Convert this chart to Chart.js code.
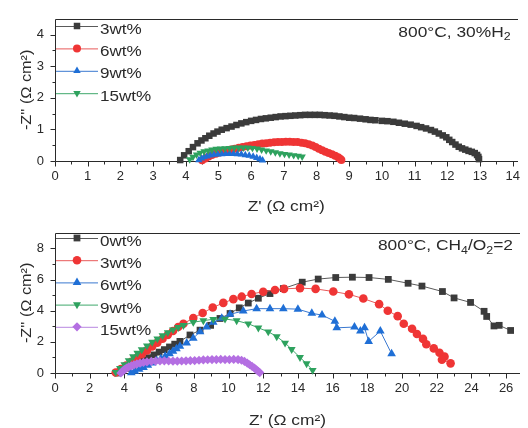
<!DOCTYPE html>
<html>
<head>
<meta charset="utf-8">
<title>Impedance spectra</title>
<script src="https://cdn.jsdelivr.net/npm/chart.js@4/dist/chart.umd.min.js"></script>
<style>
  html, body { margin: 0; padding: 0; background: #ffffff; }
  #wrap { position: relative; width: 528px; height: 428px; overflow: hidden; }
  canvas { position: absolute; left: 0; }
  #h2Chart { top: 0; }
  #ch4Chart { top: 214px; }
</style>
</head>
<body>
<div id="wrap">
  <canvas id="h2Chart" width="528" height="214"></canvas>
  <canvas id="ch4Chart" width="528" height="214"></canvas>
</div>
<script>
// ---------- 800°C, 30% H2 : Nyquist plots ----------
const h2Labels = ['3wt%', '6wt%', '9wt%', '15wt%'];

const h2Re3 = [3.83,3.95,4.09,4.22,4.36,4.48,4.6,4.72,4.85,4.97,5.1,5.25,5.4,5.55,5.7,5.85,
  6.0,6.15,6.3,6.45,6.6,6.75,6.9,7.05,7.2,7.35,7.5,7.65,7.8,7.95,8.1,8.25,8.4,8.55,
  8.7,8.85,9.0,9.15,9.33,9.5,9.65,9.8,10.0,10.17,10.35,10.52,10.7,10.88,11.06,11.2,11.35,11.5,11.62,11.74,
  11.86,11.97,12.06,12.15,12.25,12.35,12.45,12.55,12.65,12.75,12.84,12.91,12.95,12.97];
const h2Im3 = [0.03,0.18,0.31,0.44,0.56,0.65,0.72,0.8,0.87,0.93,0.99,1.04,1.09,1.14,1.19,1.23,
  1.27,1.30,1.33,1.35,1.37,1.39,1.41,1.42,1.43,1.44,1.45,1.46,1.46,1.46,1.46,1.45,1.44,1.43,
  1.41,1.39,1.37,1.36,1.34,1.32,1.30,1.29,1.27,1.26,1.24,1.21,1.18,1.15,1.11,1.07,1.03,0.98,0.93,0.87,
  0.81,0.75,0.67,0.6,0.52,0.45,0.4,0.36,0.32,0.29,0.25,0.19,0.13,0.06];

const h2Re6 = [4.5,4.6,4.7,4.8,4.92,5.03,5.15,5.26,5.38,5.5,5.62,5.74,5.86,5.98,6.1,6.22,6.34,6.46,6.58,6.7,
  6.82,6.94,7.06,7.18,7.3,7.42,7.54,7.65,7.76,7.87,7.97,8.07,8.17,8.27,8.37,8.47,8.57,8.66,8.72,8.76];
const h2Im6 = [0.02,0.08,0.14,0.19,0.23,0.27,0.3,0.33,0.36,0.39,0.42,0.44,0.47,0.49,0.51,0.53,0.55,0.56,0.58,0.59,
  0.6,0.6,0.61,0.61,0.6,0.6,0.58,0.56,0.53,0.49,0.44,0.39,0.34,0.29,0.25,0.21,0.17,0.12,0.07,0.03];

const h2Re9 = [4.4,4.48,4.56,4.65,4.75,4.86,4.98,5.1,5.22,5.34,5.46,5.58,5.7,5.82,5.94,6.06,6.17,6.27,6.35];
const h2Im9 = [0.03,0.08,0.12,0.15,0.18,0.2,0.21,0.22,0.23,0.23,0.23,0.22,0.21,0.19,0.17,0.14,0.1,0.06,0.02];

const h2Re15 = [4.12,4.22,4.33,4.44,4.56,4.68,4.8,4.93,5.06,5.2,5.34,5.48,5.62,5.76,5.9,6.04,6.18,6.32,6.46,6.6,
  6.74,6.88,7.02,7.16,7.3,7.44,7.56];
const h2Im15 = [0.05,0.13,0.2,0.26,0.3,0.33,0.36,0.38,0.39,0.4,0.41,0.42,0.42,0.42,0.42,0.41,0.39,0.36,0.33,0.3,
  0.27,0.24,0.22,0.2,0.18,0.16,0.14];

const h2XTicks = [0,1,2,3,4,5,6,7,8,9,10,11,12,13,14];
const h2YTicks = [0,1,2,3,4];

// ---------- 800°C, CH4/O2 = 2 : Nyquist plots ----------
const ch4Labels = ['0wt%', '3wt%', '6wt%', '9wt%', '15wt%'];

const ch4Re0 = [3.6,3.9,4.2,4.5,4.8,5.1,5.4,5.7,6.0,6.3,6.6,6.9,7.2,7.78,8.36,8.97,9.51,10.09,10.62,11.14,11.72,
  12.39,13.16,14.25,15.17,16.18,17.14,18.1,19.21,20.35,21.15,22.33,23.0,23.95,24.73,24.88,25.3,25.6,26.26];
const ch4Im0 = [0.0,0.15,0.3,0.48,0.64,0.82,0.98,1.16,1.34,1.5,1.67,1.85,2.03,2.44,2.75,3.06,3.5,3.82,4.18,4.49,4.8,
  5.1,5.42,5.83,6.03,6.13,6.15,6.13,6.01,5.76,5.58,5.23,4.82,4.53,3.96,3.63,3.02,3.06,2.73];

const ch4Re3 = [3.5,3.8,4.1,4.4,4.7,5.0,5.3,5.6,5.9,6.2,6.5,6.8,7.1,7.4,7.97,8.51,9.09,9.7,10.28,10.76,11.33,12.0,
  12.68,13.2,14.12,15.02,16.04,16.94,17.77,18.68,19.18,19.75,20.1,20.58,20.86,21.21,21.4,21.83,22.16,22.45,22.3,22.8];
const ch4Im3 = [0.03,0.25,0.48,0.72,0.96,1.2,1.45,1.7,1.95,2.2,2.45,2.7,2.95,3.16,3.53,3.85,4.2,4.5,4.74,4.9,5.07,5.22,
  5.33,5.4,5.45,5.4,5.23,5.05,4.78,4.42,4.0,3.65,3.16,2.84,2.5,2.19,1.85,1.58,1.3,1.05,0.85,0.62];

const ch4Re6 = [4.4,4.6,4.85,5.1,5.35,5.6,5.85,6.1,6.35,6.6,6.8,7.0,7.2,7.59,7.97,8.36,8.74,9.12,9.61,10.09,10.85,
  11.62,12.39,13.16,14.0,14.8,15.39,16.13,16.24,17.26,17.6,17.84,18.08,18.75,19.4];
const ch4Im6 = [0.02,0.12,0.24,0.36,0.5,0.64,0.78,0.92,1.08,1.24,1.4,1.56,1.72,1.93,2.23,2.65,2.95,3.26,3.51,3.77,3.98,
  4.13,4.13,4.13,4.1,3.83,3.72,3.32,2.9,2.95,2.7,2.9,2.03,2.69,1.23];

const ch4Re9 = [3.5,3.75,4.0,4.25,4.5,4.75,5.0,5.3,5.6,5.9,6.2,6.5,6.8,7.1,7.4,7.97,8.55,9.12,9.8,10.47,11.14,11.72,
  12.29,12.78,13.26,13.64,14.12,14.5,14.85];
const ch4Im9 = [0.05,0.3,0.55,0.8,1.05,1.28,1.5,1.75,1.98,2.2,2.4,2.6,2.78,2.93,3.06,3.26,3.36,3.45,3.47,3.36,3.16,2.9,
  2.65,2.34,1.93,1.52,1.0,0.6,0.18];

const ch4Re15 = [3.8,3.9,4.0,4.12,4.25,4.4,4.55,4.72,4.9,5.1,5.3,5.55,5.8,6.05,6.3,6.55,6.8,7.05,7.3,7.55,7.8,8.05,
  8.3,8.55,8.8,9.05,9.3,9.55,9.8,10.05,10.3,10.55,10.75,10.92,11.08,11.22,11.36,11.5,11.62,11.72,11.8];
const ch4Im15 = [0.0,0.12,0.22,0.31,0.39,0.46,0.52,0.58,0.63,0.68,0.71,0.74,0.76,0.77,0.78,0.77,0.76,0.76,0.77,0.78,0.79,0.8,
  0.82,0.84,0.85,0.86,0.86,0.87,0.86,0.86,0.87,0.86,0.82,0.74,0.64,0.53,0.42,0.31,0.2,0.1,0.03];

const ch4XTicks = [0,2,4,6,8,10,12,14,16,18,20,22,24,26];
const ch4YTicks = [0,2,4,6,8];

// ---------- styling ----------
const AXIS = '#2a2a2a';
const FONT = '"Liberation Sans", Arial, Helvetica, sans-serif';
const MARKS = {
  black:  { fill: '#3b3b3b', line: '#5a5a5a', style: 'rect' },
  red:    { fill: '#ef3535', line: '#e85a5a', style: 'circle' },
  blue:   { fill: '#1f6fd6', line: '#3a78d0', style: 'triangle' },
  green:  { fill: '#2ea25e', line: '#3fa86c', style: 'triangle', rot: 180 },
  purple: { fill: '#b46fe2', line: '#b888e0', style: 'rectRot' }
};

function series(re, im, label, mark, radius) {
  return {
    label,
    data: re.map((x, i) => ({ x, y: im[i] })),
    showLine: true,
    borderColor: mark.line,
    borderWidth: 1,
    backgroundColor: mark.fill,
    pointBackgroundColor: mark.fill,
    pointBorderColor: mark.fill,
    pointBorderWidth: 0,
    pointStyle: mark.style,
    pointRotation: mark.rot || 0,
    pointRadius: radius,
    pointHoverRadius: radius,
    tension: 0,
    clip: false
  };
}

// text with optional subscript pieces and horizontal stretch
function drawRich(ctx, parts, x, y, size, sx, align) {
  ctx.save();
  ctx.fillStyle = AXIS;
  ctx.textBaseline = 'alphabetic';
  ctx.textAlign = 'left';
  const widths = parts.map(p => {
    ctx.font = `${p.sub ? Math.round(size * 0.68) : size}px ${FONT}`;
    return ctx.measureText(p.t).width * sx;
  });
  const total = widths.reduce((a, b) => a + b, 0);
  let cx = align === 'right' ? x - total : align === 'center' ? x - total / 2 : x;
  parts.forEach((p, i) => {
    ctx.font = `${p.sub ? Math.round(size * 0.68) : size}px ${FONT}`;
    ctx.save();
    ctx.translate(cx, y + (p.sub ? size * 0.28 : 0));
    ctx.scale(sx, 1);
    ctx.fillText(p.t, 0, 0);
    ctx.restore();
    cx += widths[i];
  });
  ctx.restore();
}

const decor = {
  id: 'decor',
  beforeDatasetsDraw(chart, args, o) {
    const ctx = chart.ctx, a = chart.chartArea;
    const xs = chart.scales.x, ys = chart.scales.y;
    const L = Math.round(a.left) + 0.5, R = Math.round(a.right);
    const T = Math.round(a.top) + 0.5, B = Math.round(a.bottom) + 0.5;
    ctx.save();
    ctx.strokeStyle = AXIS;
    ctx.lineWidth = 1;
    ctx.beginPath();
    ctx.moveTo(L, T); ctx.lineTo(R, T);
    ctx.moveTo(L, T); ctx.lineTo(L, B); ctx.lineTo(R, B);
    const xt = o.xTicks, yt = o.yTicks;
    xt.forEach((v, i) => {
      const px = Math.round(xs.getPixelForValue(v)) + 0.5;
      ctx.moveTo(px, B); ctx.lineTo(px, B + 5);
      const mid = i < xt.length - 1 ? (v + xt[i + 1]) / 2 : null;
      if (mid !== null) {
        const pm = Math.round(xs.getPixelForValue(mid)) + 0.5;
        ctx.moveTo(pm, B); ctx.lineTo(pm, B + 3);
      }
    });
    yt.forEach((v, i) => {
      const py = Math.round(ys.getPixelForValue(v)) + 0.5;
      ctx.moveTo(L, py); ctx.lineTo(L - 5, py);
      const mid = (v + (i < yt.length - 1 ? yt[i + 1] : v + (yt[1] - yt[0]))) / 2;
      if (mid < ys.max) {
        const pm = Math.round(ys.getPixelForValue(mid)) + 0.5;
        ctx.moveTo(L, pm); ctx.lineTo(L - 3, pm);
      }
    });
    ctx.stroke();
    ctx.restore();
  },
  afterDatasetsDraw(chart, args, o) {
    const ctx = chart.ctx, a = chart.chartArea;
    // legend: line sample, marker, label
    chart.data.datasets.forEach((ds, i) => {
      const y = o.legendY + i * o.legendStep;
      ctx.save();
      ctx.strokeStyle = ds.borderColor;
      ctx.lineWidth = 1;
      ctx.beginPath();
      ctx.moveTo(a.left + 1, y + 0.5);
      ctx.lineTo(a.left + 43, y + 0.5);
      ctx.stroke();
      ctx.fillStyle = ds.pointBackgroundColor;
      Chart.helpers.drawPoint(ctx, {
        pointStyle: ds.pointStyle, rotation: ds.pointRotation,
        radius: ds.pointRadius, borderWidth: 0
      }, a.left + 22, y);
      ctx.restore();
      drawRich(ctx, [{ t: ds.label }], a.left + 45, y + o.legendBase, 14, 1.22, 'left');
    });
    // condition label, top right
    drawRich(ctx, o.note, a.right - 7, o.noteY, 14, 1.24, 'right');
    // axis titles
    drawRich(ctx, [{ t: "Z' (\u03A9 cm\u00B2)" }], (a.left + a.right) / 2, o.xTitleY, 15, 1.16, 'center');
    ctx.save();
    ctx.translate(31, (a.top + a.bottom) / 2);
    ctx.rotate(-Math.PI / 2);
    drawRich(ctx, [{ t: "-Z'' (\u03A9 cm\u00B2)" }], 0, 0, 15, 1.08, 'center');
    ctx.restore();
  }
};

function buildOptions(cfg) {
  const tickFont = { family: FONT, size: 13 };
  return {
    responsive: false,
    animation: false,
    events: [],
    layout: { padding: { left: 0, right: 8, top: cfg.top, bottom: 0 } },
    plugins: {
      legend: { display: false },
      tooltip: { enabled: false },
      decor: cfg.decor
    },
    scales: {
      x: {
        type: 'linear', min: 0, max: cfg.xMax,
        afterBuildTicks: s => { s.ticks = cfg.xTicks.map(v => ({ value: v })); },
        afterFit: s => { s.height = cfg.xHeight; },
        grid: { display: false, drawTicks: false, tickLength: 0 },
        border: { display: false },
        ticks: { padding: 8, color: AXIS, font: tickFont, maxRotation: 0, autoSkip: false, callback: v => String(v) }
      },
      y: {
        type: 'linear', min: 0, max: cfg.yMax,
        afterBuildTicks: s => { s.ticks = cfg.yTicks.map(v => ({ value: v })); },
        afterFit: s => { s.width = 55; },
        grid: { display: false, drawTicks: false, tickLength: 0 },
        border: { display: false },
        ticks: { padding: 11, color: AXIS, font: tickFont, autoSkip: false, callback: v => String(v) }
      }
    }
  };
}

new Chart(document.getElementById('h2Chart'), {
  type: 'scatter',
  data: {
    datasets: [
      series(h2Re3, h2Im3, h2Labels[0], MARKS.black, 4.6),
      series(h2Re6, h2Im6, h2Labels[1], MARKS.red, 4),
      series(h2Re9, h2Im9, h2Labels[2], MARKS.blue, 4.3),
      series(h2Re15, h2Im15, h2Labels[3], MARKS.green, 4.3)
    ].map((d, i) => Object.assign(d, { order: -i }))
  },
  options: buildOptions({
    top: 16, xMax: 14.15, yMax: 4.5, xHeight: 53,
    xTicks: h2XTicks, yTicks: h2YTicks,
    decor: {
      xTicks: h2XTicks, yTicks: h2YTicks,
      legendY: 26, legendStep: 22.4, legendBase: 7.5,
      note: [{ t: '800\u00B0C, 30%H' }, { t: '2', sub: true }], noteY: 36.5,
      xTitleY: 211
    }
  }),
  plugins: [decor]
});

new Chart(document.getElementById('ch4Chart'), {
  type: 'scatter',
  data: {
    datasets: [
      series(ch4Re0, ch4Im0, ch4Labels[0], MARKS.black, 4.8),
      series(ch4Re3, ch4Im3, ch4Labels[1], MARKS.red, 4.3),
      series(ch4Re6, ch4Im6, ch4Labels[2], MARKS.blue, 5),
      series(ch4Re9, ch4Im9, ch4Labels[3], MARKS.green, 4.6),
      series(ch4Re15, ch4Im15, ch4Labels[4], MARKS.purple, 4.6)
    ].map((d, i) => Object.assign(d, { order: -i }))
  },
  options: buildOptions({
    top: 13, xMax: 26.8, yMax: 9, xHeight: 55,
    xTicks: ch4XTicks, yTicks: ch4YTicks,
    decor: {
      xTicks: ch4XTicks, yTicks: ch4YTicks,
      legendY: 24, legendStep: 22.2, legendBase: 8,
      note: [{ t: '800\u00B0C, CH' }, { t: '4', sub: true }, { t: '/O' }, { t: '2', sub: true }, { t: '=2' }], noteY: 36,
      xTitleY: 211
    }
  }),
  plugins: [decor]
});
</script>
</body>
</html>
